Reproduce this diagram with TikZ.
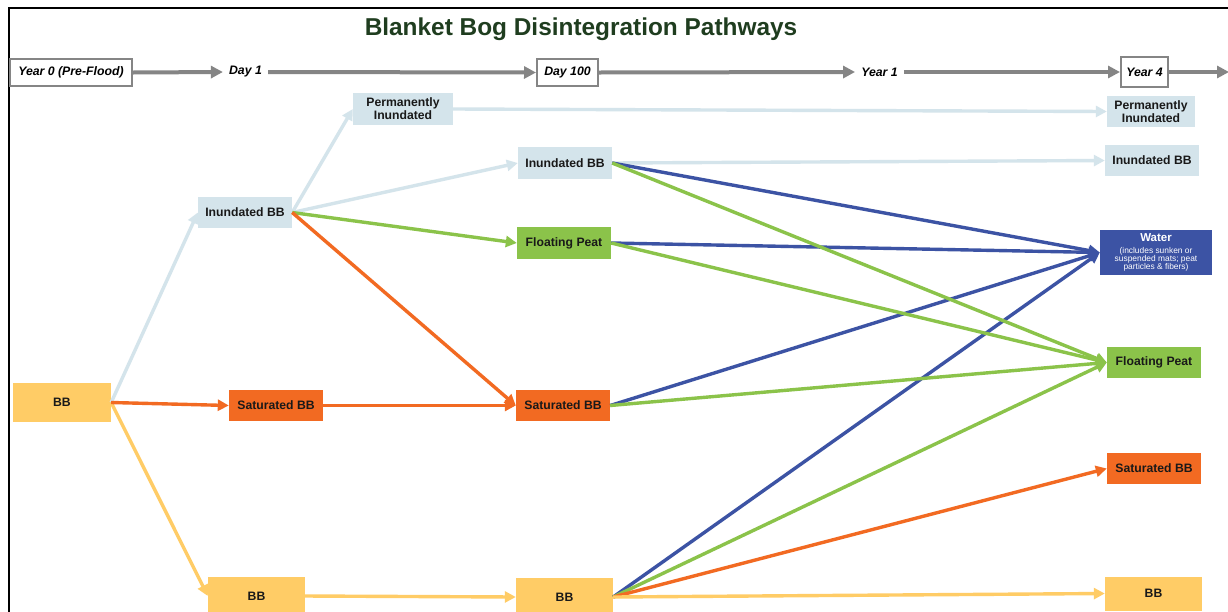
\documentclass[tikz,border=0pt]{standalone}
\usepackage{fontspec}
\setmainfont{Liberation Sans}
\usetikzlibrary{arrows.meta}
\definecolor{lblue}{HTML}{D4E4EB}
\definecolor{orng}{HTML}{F26A22}
\definecolor{yell}{HTML}{FFCC66}
\definecolor{grn}{HTML}{8BC34A}
\definecolor{blu}{HTML}{3C53A4}
\definecolor{tgray}{HTML}{858585}
\definecolor{ttl}{HTML}{1F3D1F}
\newcommand\watersubfont{\mdseries\fontsize{8.4}{8}\selectfont\lineskiplimit=-6pt\relax}
\begin{document}
\begin{tikzpicture}[x=1pt,y=-1pt,
  wh/.style 2 args={minimum width=#1pt, minimum height=#2pt},
  nb/.style={inner sep=0pt, align=center, text=black!90, font=\bfseries\fontsize{12.2}{13}\selectfont},
  tbox/.style={draw=tgray, line width=2pt, fill=white, inner sep=0pt, font=\bfseries\itshape\fontsize{12.3}{13}\selectfont},
  ttxt/.style={inner sep=6pt, font=\bfseries\itshape\fontsize{12.3}{13}\selectfont},
  tarr/.style={draw=tgray, line width=4pt, -{Triangle[length=12pt,width=12pt]}},
  edge/.style={line width=3.4pt, -{Triangle[length=11pt,width=11pt]}},
  elb/.style={edge, draw=lblue},
  eor/.style={edge, draw=orng},
  eye/.style={edge, draw=yell},
  egr/.style={edge, draw=grn},
  ebl/.style={edge, draw=blu}]
\useasboundingbox (0,0) rectangle (1228,611);
\clip (0,0) rectangle (1228,611);
\fill[white] (0,0) rectangle (1228,611);
% frame
\draw[line width=2pt, black] (9,612) -- (9,8) -- (1229,8);
% title
\node[font=\bfseries\fontsize{24.4}{27}\selectfont, text=ttl] (title) at (581,29) {Blanket Bog Disintegration Pathways};
% timeline
\node[tbox, wh={122}{27}] (t0) at (71,72.5) {Year 0 (Pre-Flood)};
\node[ttxt] (d1) at (245.5,72) {Day 1};
\node[tbox, wh={61}{27}] (d100) at (567.5,72.5) {Day 100};
\node[ttxt] (y1) at (879.5,72) {Year 1};
\node[tbox, wh={47}{30}] (y4) at (1144.5,72) {Year 4};
\coordinate (tend) at (1229,72);
\draw[tarr] (t0.east) -- (d1.west);
\draw[tarr] (d1.east) -- (d100.west);
\draw[tarr] (d100.east) -- (y1.west);
\draw[tarr] (y1.east) -- (y4.west);
\draw[tarr] (y4.east) -- (tend);
% column 0
\node[nb, fill=yell, wh={98}{39}] (bb0) at (62,402.5) {BB};
% column 1
\node[nb, fill=lblue, wh={94}{31}] (ib1) at (245,212.5) {Inundated BB};
\node[nb, fill=orng, wh={94}{31}] (sb1) at (276,405.5) {Saturated BB};
\node[nb, fill=yell, wh={97}{38}] (bb1) at (256.5,596) {BB};
% column 2
\node[nb, fill=lblue, wh={100}{32}] (pi2) at (403,109) {Permanently\\Inundated};
\node[nb, fill=lblue, wh={94}{32}] (ib2) at (565,163) {Inundated BB};
\node[nb, fill=grn, wh={94}{32}] (fp2) at (564,243) {Floating Peat};
\node[nb, fill=orng, wh={94}{31}] (sb2) at (563,405.5) {Saturated BB};
\node[nb, fill=yell, wh={97}{38}] (bb2) at (564.5,597) {BB};
% column 3
\node[nb, fill=lblue, wh={88}{31}] (pi3) at (1151,111.5) {Permanently\\Inundated};
\node[nb, fill=lblue, wh={94}{31}] (ib3) at (1152,160.5) {Inundated BB};
\node[nb, fill=blu, wh={112}{45}, text=white, font=\watersubfont] (wa3) at (1156,252.5) {{\bfseries\fontsize{11.5}{12}\selectfont Water}\\[3.5pt](includes sunken or\\suspended mats; peat\\particles \& fibers)};
\node[nb, fill=grn, wh={94}{31}] (fp3) at (1154,362.5) {Floating Peat};
\node[nb, fill=orng, wh={94}{31}] (sb3) at (1154,468.5) {Saturated BB};
\node[nb, fill=yell, wh={97}{34}] (bb3) at (1153.5,593.5) {BB};
% edges from column 0
\draw[elb] (bb0.east) -- (ib1.west);
\draw[eye] (bb0.east) -- (bb1.west);
\draw[eor] (bb0.east) -- (sb1.west);
% edges from column 1
\draw[elb] (ib1.east) -- (pi2.west);
\draw[elb] (ib1.east) -- (ib2.west);
\draw[egr] (ib1.east) -- (fp2.west);
\draw[eor] (ib1.east) -- (sb2.west);
\draw[eor] (sb1.east) -- (sb2.west);
\draw[eye] (bb1.east) -- (bb2.west);
% edges from column 2
\draw[elb] (pi2.east) -- (pi3.west);
\draw[elb] (ib2.east) -- (ib3.west);
\draw[ebl] (ib2.east) -- (wa3.west);
\draw[ebl] (fp2.east) -- (wa3.west);
\draw[ebl] (sb2.east) -- (wa3.west);
\draw[ebl] (bb2.east) -- (wa3.west);
\draw[egr] (ib2.east) -- (fp3.west);
\draw[egr] (fp2.east) -- (fp3.west);
\draw[egr] (sb2.east) -- (fp3.west);
\draw[egr] (bb2.east) -- (fp3.west);
\draw[eor] (bb2.east) -- (sb3.west);
\draw[eye] (bb2.east) -- (bb3.west);
\end{tikzpicture}
\end{document}
